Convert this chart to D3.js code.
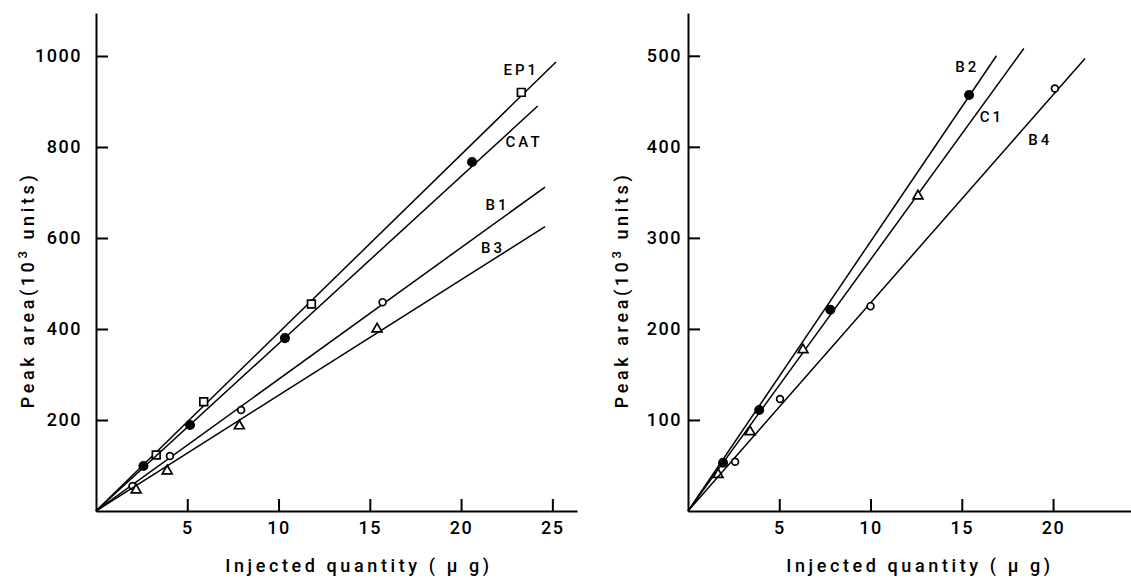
<!DOCTYPE html>
<html>
<head>
<meta charset="utf-8">
<script src="https://cdn.jsdelivr.net/npm/d3@7"></script>
<style>
    body { margin: 0; background: #fff; }
    svg text { font-family: Roboto, "DejaVu Sans", sans-serif; fill: #000; font-weight: 500; }
    .axis path, .axis line { stroke: #000; stroke-width: 2; }
    .axis text { font-size: 18px; letter-spacing: 1.5px; }
    .fit { stroke: #000; stroke-width: 1.5; fill: none; }
    .lbl { font-size: 15px; letter-spacing: 3px; }
    .title { font-size: 18px; letter-spacing: 3.6px; }
</style>
</head>
<body>
<svg id="chart" width="1131" height="578"></svg>
<script>

// ---- left panel: injected quantity (ug) vs peak area (10^3 units)
const leftXTicks = [5, 10, 15, 20, 25];
const leftYTicks = [200, 400, 600, 800, 1000];

const ep1Q = [3.3, 5.9, 11.8, 23.3];
const ep1Area = [123, 240, 455, 920];
const catQ = [2.6, 5.15, 10.35, 20.6];
const catArea = [99, 189, 380, 767];
const b1Q = [2.0, 4.05, 7.95, 15.7];
const b1Area = [55, 121, 222, 459];
const b3Q = [2.2, 3.9, 7.85, 15.4];
const b3Area = [46, 88, 187, 400];

// where each fitted line stops
const ep1End = [25.2, 987];
const catEnd = [24.2, 890];
const b1End = [24.6, 712];
const b3End = [24.6, 625];

// ---- right panel
const rightXTicks = [5, 10, 15, 20];
const rightYTicks = [100, 200, 300, 400, 500];

const b2Q = [1.92, 3.9, 7.8, 15.4];
const b2Area = [53, 111, 221, 457];
const c1Q = [1.65, 3.4, 6.3, 12.6];
const c1Area = [40, 87, 177, 346];
const b4Q = [2.58, 5.04, 10.0, 20.1];
const b4Area = [54, 123, 225, 464];

const b2End = [16.9, 500];
const c1End = [18.4, 508];
const b4End = [21.75, 497];


class CalPanel {

    constructor(svg, opts, series) {
        this.svg = svg;
        this.opts = opts;
        this.series = series;
        this.initVis();
    }

    initVis() {
        let vis = this;
        let o = vis.opts;

        vis.g = vis.svg.append('g');

        vis.x = d3.scaleLinear().domain([0, o.xMax]).range([o.x0, o.x1]);
        vis.y = d3.scaleLinear().domain([0, o.yMax]).range([o.y0, o.y1]);

        vis.xAxis = d3.axisBottom(vis.x)
            .tickValues(o.xTicks)
            .tickSize(-12)
            .tickSizeOuter(0)
            .tickPadding(10)
            .tickFormat(d3.format('d'));

        vis.yAxis = d3.axisLeft(vis.y)
            .tickValues(o.yTicks)
            .tickSize(-12)
            .tickSizeOuter(0)
            .tickPadding(o.yPad)
            .tickFormat(d3.format('d'));

        vis.g.append('g')
            .attr('class', 'axis')
            .attr('transform', `translate(0,${o.y0})`)
            .call(vis.xAxis);

        vis.g.append('g')
            .attr('class', 'axis')
            .attr('transform', `translate(${o.x0},0)`)
            .call(vis.yAxis);

        vis.g.selectAll('.axis text').attr('fill', '#000');

        // axis titles
        vis.g.append('text')
            .attr('class', 'title')
            .attr('text-anchor', 'middle')
            .attr('x', o.xTitle[0])
            .attr('y', o.xTitle[1])
            .text(o.xTitleText);

        let yt = vis.g.append('text')
            .attr('class', 'title')
            .attr('text-anchor', 'middle')
            .attr('transform', `translate(${o.yTitle[0]},${o.yTitle[1]}) rotate(-90)`);
        yt.append('tspan').text('Peak area(10');
        yt.append('tspan').attr('dy', -7).attr('font-size', 13).text('3');
        yt.append('tspan').attr('dy', 7).text(' units)');

        vis.updateVis();
    }

    updateVis() {
        let vis = this;
        let line = d3.line().x(d => vis.x(d[0])).y(d => vis.y(d[1]));

        vis.series.forEach(s => {
            vis.g.append('path')
                .attr('class', 'fit')
                .attr('d', line([[0, 0], s.end]));

            let pts = s.q.map((q, i) => ({q: q, a: s.area[i]}));
            let sym = d3.symbol().type(s.shape.type).size(s.shape.size);

            vis.g.selectAll(null)
                .data(pts)
                .enter()
                .append('path')
                .attr('transform', d => `translate(${vis.x(d.q)},${vis.y(d.a)})`)
                .attr('d', sym)
                .attr('fill', s.shape.filled ? '#000' : '#fff')
                .attr('stroke', '#000')
                .attr('stroke-width', 1.7);

            vis.g.append('text')
                .attr('class', 'lbl')
                .attr('text-anchor', 'middle')
                .attr('dy', '0.35em')
                .attr('x', vis.x(s.label[0]))
                .attr('y', vis.y(s.label[1]))
                .text(s.name);
        });
    }
}

const square = {type: d3.symbolSquare, size: 60, filled: false};
const dot = {type: d3.symbolCircle, size: 55, filled: true};
const ring = {type: d3.symbolCircle, size: 36, filled: false};
const tri = {type: d3.symbolTriangle, size: 42, filled: false};

const svg = d3.select('#chart');

new CalPanel(svg, {
    x0: 96, x1: 577, xMax: 26.35,
    y0: 511, y1: 13, yMax: 1094.5,
    xTicks: leftXTicks, yTicks: leftYTicks, yPad: 14,
    xTitle: [359, 572], xTitleText: 'Injected quantity ( \u03bc g)',
    yTitle: [34, 290]
}, [
    {name: 'EP1', q: ep1Q, area: ep1Area, end: ep1End, shape: square, label: [23.3, 969]},
    {name: 'CAT', q: catQ, area: catArea, end: catEnd, shape: dot, label: [23.45, 811]},
    {name: 'B1', q: b1Q, area: b1Area, end: b1End, shape: ring, label: [22.0, 673]},
    {name: 'B3', q: b3Q, area: b3Area, end: b3End, shape: tri, label: [21.75, 578]}
]);

new CalPanel(svg, {
    x0: 688, x1: 1131, xMax: 24.27,
    y0: 511, y1: 13, yMax: 547,
    xTicks: rightXTicks, yTicks: rightYTicks, yPad: 6,
    xTitle: [920, 572], xTitleText: 'Injected quantity ( \u03bc g)',
    yTitle: [628, 290]
}, [
    {name: 'B2', q: b2Q, area: b2Area, end: b2End, shape: dot, label: [15.3, 488]},
    {name: 'C1', q: c1Q, area: c1Area, end: c1End, shape: tri, label: [16.65, 433]},
    {name: 'B4', q: b4Q, area: b4Area, end: b4End, shape: ring, label: [19.3, 408]}
]);

</script>
</body>
</html>
